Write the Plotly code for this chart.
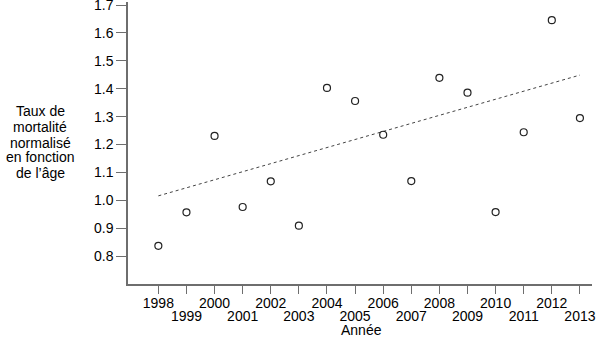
import plotly.graph_objects as go

years = list(range(1998, 2014))
rates = [0.837, 0.957, 1.231, 0.976, 1.068, 0.909, 1.403, 1.356,
         1.235, 1.069, 1.439, 1.386, 0.958, 1.244, 1.646, 1.295]
trend_years = [1998, 2013]
trend_values = [1.016, 1.449]
y_ticks = [0.8, 0.9, 1.0, 1.1, 1.2, 1.3, 1.4, 1.5, 1.6, 1.7]
even_years = [y for y in years if y % 2 == 0]
odd_years = [y for y in years if y % 2 == 1]
y_title_lines = ["Taux de", "mortalité", "normalisé", "en fonction", "de l’âge"]
x_title = "Année"

FONT = "Liberation Sans, Arial, sans-serif"
FS = 14
AXIS_COLOR = "#6e6e6e"
W, H = 598, 338
L, R, T, B = 128, 6, 2, 54
PH = H - T - B


def py(Y):
    return (H - B - Y) / PH


fig = go.Figure()
fig.add_trace(go.Scatter(
    x=trend_years, y=trend_values, mode="lines",
    line=dict(color="#444444", width=1, dash="dot"),
    hoverinfo="skip", showlegend=False))
fig.add_trace(go.Scatter(
    x=years, y=rates, mode="markers",
    marker=dict(symbol="circle-open", size=7, color="#222222",
                line=dict(width=1.2, color="#222222")),
    showlegend=False))
# invisible trace to activate the second x axis (odd-year labels)
fig.add_trace(go.Scatter(x=[years[0]], y=[rates[0]], xaxis="x2",
                         mode="markers", marker=dict(opacity=0),
                         hoverinfo="skip", showlegend=False))

fig.update_layout(
    width=W, height=H,
    margin=dict(l=L, r=R, t=T, b=B),
    paper_bgcolor="white", plot_bgcolor="white",
    font=dict(family=FONT, size=FS, color="black"),
    xaxis=dict(
        range=[1996.92, 2013.43], automargin=False,
        tickmode="array", tickvals=years,
        ticktext=[str(y) if y % 2 == 0 else "" for y in years],
        tickangle=0,
        showline=True, linecolor=AXIS_COLOR, linewidth=1.5,
        ticks="outside", ticklen=8, tickwidth=1, tickcolor=AXIS_COLOR,
        showgrid=False, zeroline=False, ticklabelstandoff=-3,
        tickfont=dict(size=FS, family=FONT, color="black"),
    ),
    xaxis2=dict(
        overlaying="x", matches="x", anchor="y", side="bottom",
        automargin=False,
        tickmode="array", tickvals=odd_years,
        ticktext=[str(y) for y in odd_years], tickangle=0,
        showline=False, ticks="", showgrid=False, zeroline=False,
        ticklabelstandoff=22,
        tickfont=dict(size=FS, family=FONT, color="black"),
    ),
    yaxis=dict(
        range=[0.7, 1.711], automargin=False,
        tickmode="array", tickvals=y_ticks,
        ticktext=[f"{v:.1f}" for v in y_ticks],
        ticklabeloverflow="allow",
        showline=True, linecolor=AXIS_COLOR, linewidth=1.5,
        ticks="outside", ticklen=10, tickwidth=1, tickcolor=AXIS_COLOR,
        showgrid=False, zeroline=False,
        tickfont=dict(size=FS, family=FONT, color="black"),
    ),
)

title_centers = [111, 127, 142.5, 157.5, 173]
for line, yc in zip(y_title_lines, title_centers):
    fig.add_annotation(
        text=line, xref="paper", yref="paper", x=(40 - L) / (W - L - R),
        y=py(yc), xanchor="center", yanchor="middle", showarrow=False,
        borderpad=0,
        font=dict(size=FS, family=FONT, color="black"))

fig.add_annotation(
    text=x_title, xref="paper", yref="paper", x=(361 - L) / (W - L - R),
    y=py(330), xanchor="center", yanchor="middle", showarrow=False,
    borderpad=0,
    font=dict(size=FS, family=FONT, color="black"))

fig.write_html("out.html")
